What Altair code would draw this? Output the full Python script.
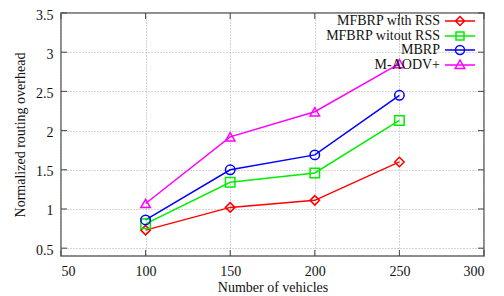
import altair as alt
import pandas as pd

vehicles = [100, 150, 200, 250]
series_names = ["MFBRP with RSS", "MFBRP witout RSS", "MBRP", "M-AODV+"]
mfbrp_rss = [0.73, 1.02, 1.11, 1.60]
mfbrp_norss = [0.81, 1.34, 1.46, 2.13]
mbrp = [0.86, 1.50, 1.69, 2.45]
maodv = [1.07, 1.92, 2.24, 2.855]
colors = ["#ff0000", "#00ee00", "#0000ff", "#ff00ff"]
point_shapes = ["diamond", "square", "circle", "triangle-up"]
# legend glyphs: line + marker drawn to the right of the label
# (custom symbol paths, 1 unit = sqrt(size)/2 = 5px)
legend_paths = [
    "M2.4,0H8.4M5.4,-0.9L6.3,0L5.4,0.9L4.5,0Z",
    "M2.4,0H8.4M4.6,-0.8H6.2V0.8H4.6Z",
    "M2.4,0H8.4M6.3,0A0.9,0.9,0,1,1,4.5,0A0.9,0.9,0,1,1,6.3,0Z",
    "M2.4,0H8.4M5.4,-1L6.35,0.7H4.45Z",
]
x_ticks = [50, 100, 150, 200, 250, 300]
y_ticks = [0.5, 1, 1.5, 2, 2.5, 3, 3.5]

rows = []
for name, vals in zip(series_names, [mfbrp_rss, mfbrp_norss, mbrp, maodv]):
    for v, y in zip(vehicles, vals):
        rows.append({"vehicles": v, "overhead": y, "series": name})
df = pd.DataFrame(rows)

FONT = "Liberation Serif"
W, H = 423, 243

xscale = alt.Scale(domain=[50, 300], nice=False, zero=False)
yscale = alt.Scale(domain=[0.4, 3.5], nice=False, zero=False)
cscale = alt.Scale(domain=series_names, range=colors)

xenc = alt.X("vehicles:Q", scale=xscale,
             axis=alt.Axis(values=x_ticks, title="Number of vehicles", format="d"))
yenc = alt.Y("overhead:Q", scale=yscale,
             axis=alt.Axis(values=y_ticks, title="Normalized routing overhead",
                           format=".1~f", labelOffset=2))

base = alt.Chart(df)

lines = base.mark_line(strokeWidth=1.5).encode(
    x=xenc, y=yenc, color=alt.Color("series:N", scale=cscale)
)

point_layers = []
for name, shp in zip(series_names, point_shapes):
    point_layers.append(
        base.transform_filter(alt.datum.series == name)
        .mark_point(shape=shp, filled=False, size=90, strokeWidth=1.5, opacity=1)
        .encode(x=xenc, y=yenc, color=alt.Color("series:N", scale=cscale))
    )

ghost = base.transform_filter("false").mark_point(filled=False, strokeWidth=1.5, size=100).encode(
    x=xenc,
    y=yenc,
    color=alt.Color("series:N", scale=cscale,
                    legend=alt.Legend(
                        title=None, orient="none", legendX=365, legendY=1,
                        labelFont=FONT, labelAlign="right", labelOffset=0,
                        labelFontSize=14, labelColor="#111", symbolSize=100,
                        symbolStrokeWidth=1.5, padding=0, rowPadding=-4,
                        labelLimit=300)),
    shape=alt.Shape("series:N", scale=alt.Scale(domain=series_names, range=legend_paths)),
)

# inward tick marks like the original frame
xt = pd.DataFrame({"t": x_ticks})
yt = pd.DataFrame({"t": y_ticks})
tick_style = dict(color="#444", strokeWidth=1)
xt_bottom = alt.Chart(xt).mark_rule(**tick_style).encode(
    x=alt.X("t:Q", scale=xscale), y=alt.value(H), y2=alt.value(H - 6))
xt_top = alt.Chart(xt).mark_rule(**tick_style).encode(
    x=alt.X("t:Q", scale=xscale), y=alt.value(0), y2=alt.value(6))
yt_left = alt.Chart(yt).mark_rule(**tick_style).encode(
    y=alt.Y("t:Q", scale=yscale), x=alt.value(0), x2=alt.value(6))
yt_right = alt.Chart(yt).mark_rule(**tick_style).encode(
    y=alt.Y("t:Q", scale=yscale), x=alt.value(W), x2=alt.value(W - 6))

chart = alt.layer(
    xt_bottom, xt_top, yt_left, yt_right, lines, *point_layers, ghost
).properties(
    width=W, height=H,
    autosize=alt.AutoSizeParams(type="none"),
    padding={"left": 53, "top": 5, "right": 12, "bottom": 40},
).configure_view(
    stroke="#666", strokeWidth=1.5
).configure_legend(
    rowPadding=-4
).configure_axis(
    grid=True, gridColor="#aaa", gridDash=[1, 2], gridWidth=1,
    domain=False, ticks=False,
    labelFont=FONT, labelFontSize=14, labelColor="#111",
    titleFont=FONT, titleFontSize=14, titleColor="#111", titleFontWeight="normal",
).configure_axisX(
    labelPadding=8, titlePadding=2,
).configure_axisY(
    labelPadding=8, titlePadding=8,
)

chart.save("out.html", embed_options={"renderer": "svg", "actions": False})
